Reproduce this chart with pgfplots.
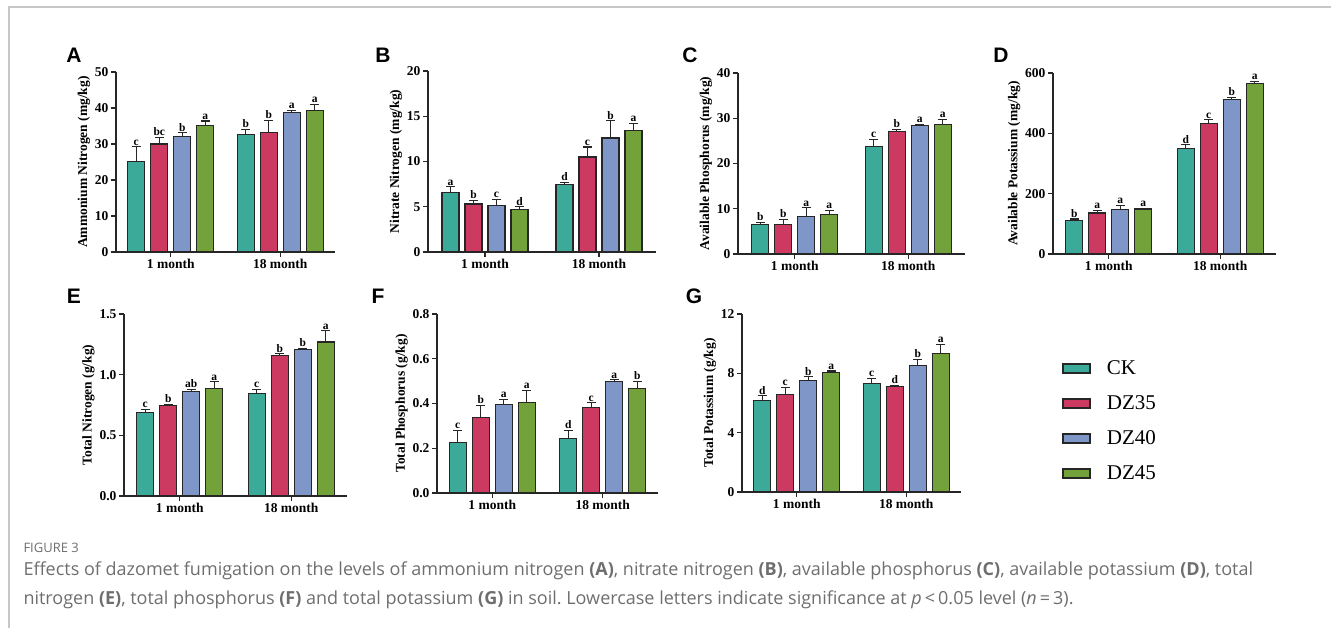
\documentclass[border=0pt]{standalone}
\usepackage{fontspec}
\setmainfont{Liberation Serif}
\newfontfamily\arial{Liberation Sans}
\newfontfamily\capfont{Open Sans}
\usepackage{pgfplots}
\usepackage{pgfplotstable}
\pgfplotsset{compat=1.18}

\definecolor{ck}{HTML}{3BAA99}
\definecolor{dz35}{HTML}{CC3A62}
\definecolor{dz40}{HTML}{7F96C8}
\definecolor{dz45}{HTML}{73A13A}
\definecolor{capgray}{HTML}{6E6E6E}

% columns: group, then value / error / letter for CK, DZ35, DZ40, DZ45
\pgfplotstableread{
x y1 e1 l1 y2 e2 l2 y3 e3 l3 y4 e4 l4
0 25.2 4.0 c 30.0 1.9 bc 32.0 1.1 b 35.1 1.3 a
1 32.7 1.3 b 33.1 3.5 b 38.8 0.6 a 39.4 1.6 a
}\tabA
\pgfplotstableread{
x y1 e1 l1 y2 e2 l2 y3 e3 l3 y4 e4 l4
0 6.6 0.6 a 5.3 0.4 b 5.1 0.7 c 4.7 0.3 d
1 7.5 0.2 d 10.5 1.1 c 12.6 1.9 b 13.4 0.8 a
}\tabB
\pgfplotstableread{
x y1 e1 l1 y2 e2 l2 y3 e3 l3 y4 e4 l4
0 6.5 0.5 b 6.6 1.0 b 8.3 1.9 a 8.8 0.8 a
1 23.8 1.5 c 27.0 0.6 b 28.4 0.3 a 28.7 1.1 a
}\tabC
\pgfplotstableread{
x y1 e1 l1 y2 e2 l2 y3 e3 l3 y4 e4 l4
0 112 4 b 136 9 a 147 15 a 149 3 a
1 349 13 d 433 12 c 512 8 b 565 7 a
}\tabD
\pgfplotstableread{
x y1 e1 l1 y2 e2 l2 y3 e3 l3 y4 e4 l4
0 0.688 0.028 c 0.743 0.011 b 0.859 0.022 ab 0.886 0.055 a
1 0.842 0.036 c 1.156 0.017 b 1.206 0.011 b 1.269 0.093 a
}\tabE
\pgfplotstableread{
x y1 e1 l1 y2 e2 l2 y3 e3 l3 y4 e4 l4
0 0.226 0.054 c 0.338 0.053 b 0.394 0.025 a 0.404 0.055 a
1 0.242 0.038 d 0.384 0.019 c 0.498 0.008 a 0.468 0.030 b
}\tabF
\pgfplotstableread{
x y1 e1 l1 y2 e2 l2 y3 e3 l3 y4 e4 l4
0 6.17 0.31 d 6.55 0.49 c 7.54 0.22 b 8.05 0.11 a
1 7.29 0.36 c 7.09 0.11 d 8.50 0.45 b 9.33 0.61 a
}\tabG

\pgfplotsset{
  panel/.style={
    scale only axis,
    ybar=6pt, bar width=17pt,
    xmin=-0.5, xmax=1.5, ymin=0,
    axis x line*=bottom, axis y line*=left,
    axis line style={line width=1.4pt, black!85},
    xtick={0,1}, xticklabels={1 month,18 month},
    tick align=outside, major tick length=5pt,
    tick style={line width=1.3pt, black!85},
    /pgf/number format/assume math mode=true,
    x tick label style={font=\bfseries\fontsize{13.5}{13.5}\selectfont, yshift=1pt},
    y tick label style={font=\bfseries\fontsize{13.5}{13.5}\selectfont, xshift=1pt},
    ylabel style={font=\bfseries\fontsize{13.5}{13.5}\selectfont, yshift=-2pt},
    nodes near coords, point meta=explicit symbolic,
    every node near coord/.append style={font=\bfseries\fontsize{11.5}{11.5}\selectfont,
      inner sep=1pt, anchor=south, shift={(axis direction cs:0,\myerr)}},
    error bars/y dir=plus, error bars/y explicit,
    error bars/error bar style={line width=1.2pt, black!85},
    error bars/error mark options={rotate=90, line width=1.2pt, mark size=4.5pt, black!85},
  },
  bar/.style={draw=black!85, line width=1.1pt, fill=#1},
}

\newcommand{\fourbars}[1]{%
  \addplot[bar=ck, visualization depends on={\thisrow{e1}\as\myerr}]
    table[x=x, y=y1, y error=e1, meta=l1]{#1};
  \addplot[bar=dz35, visualization depends on={\thisrow{e2}\as\myerr}]
    table[x=x, y=y2, y error=e2, meta=l2]{#1};
  \addplot[bar=dz40, visualization depends on={\thisrow{e3}\as\myerr}]
    table[x=x, y=y3, y error=e3, meta=l3]{#1};
  \addplot[bar=dz45, visualization depends on={\thisrow{e4}\as\myerr}]
    table[x=x, y=y4, y error=e4, meta=l4]{#1};
}

\begin{document}
\frenchspacing
\begin{tikzpicture}
\path[use as bounding box] (0,0) rectangle (1331pt,-628pt);
\draw[line width=1.5pt, black!22] (9pt,-628pt) -- (9pt,-7pt) -- (1331pt,-7pt);

% panel letters
\foreach \l/\px/\py in {A/74/55, B/383/55, C/690/55, D/1001/55, E/74/296, F/378/296, G/694/296}
  \node[font=\arial\bfseries\fontsize{21}{21}\selectfont] at (\px pt,-\py pt) {\l};

% A
\begin{axis}[panel, at={(116pt,-252pt)}, anchor=south west, width=219pt, height=180pt,
  ymax=50, ytick={0,10,...,50}, ylabel={Ammonium Nitrogen (mg/kg)}]
\fourbars{\tabA}
\end{axis}
% B
\begin{axis}[panel, at={(428pt,-252pt)}, anchor=south west, width=228pt, height=181pt,
  ymax=20, ytick={0,5,...,20}, ylabel={Nitrate Nitrogen (mg/kg)}]
\fourbars{\tabB}
\end{axis}
% C
\begin{axis}[panel, at={(738pt,-254pt)}, anchor=south west, width=227pt, height=181pt,
  ymax=40, ytick={0,10,...,40}, ylabel={Available Phosphorus (mg/kg)}]
\fourbars{\tabC}
\end{axis}
% D
\begin{axis}[panel, at={(1053pt,-254pt)}, anchor=south west, width=223pt, height=181pt,
  ymax=600, ytick={0,200,400,600}, ylabel={Available Potassium (mg/kg)}]
\fourbars{\tabD}
\end{axis}
% E
\begin{axis}[panel, at={(124pt,-496pt)}, anchor=south west, width=223pt, height=182pt,
  ymax=1.5, ytick={0,0.5,1,1.5},
  yticklabel style={/pgf/number format/.cd, fixed, fixed zerofill, precision=1},
  ylabel={Total Nitrogen (g/kg)}]
\fourbars{\tabE}
\end{axis}
% F
\begin{axis}[panel, at={(437pt,-493pt)}, anchor=south west, width=221pt, height=179pt,
  ymax=0.8, ytick={0,0.2,...,0.8},
  yticklabel style={/pgf/number format/.cd, fixed, fixed zerofill, precision=1},
  ylabel={Total Phosphorus (g/kg)}]
\fourbars{\tabF}
\end{axis}
% G with legend
\begin{axis}[panel, at={(742pt,-492pt)}, anchor=south west, width=219pt, height=178pt,
  ymax=12, ytick={0,4,8,12}, ylabel={Total Potassium (g/kg)},
  legend image code/.code={\draw[#1, line width=2pt] (0pt,-4.5pt) rectangle (27pt,4.5pt);},
  legend style={at={(1.46,0.75)}, anchor=north west, draw=none, fill=none,
    font=\fontsize{21}{23}\selectfont, row sep=15.5pt, inner sep=0pt,
    /tikz/every odd column/.append style={column sep=14pt}},
  legend cell align=left]
\fourbars{\tabG}
\legend{CK,DZ35,DZ40,DZ45}
\end{axis}

% caption
\node[anchor=base west, font=\capfont\fontsize{13}{13}\selectfont, text=capgray] at (20pt,-552pt) {FIGURE 3};
\node[anchor=base west, font=\capfont\fontsize{18}{18}\selectfont, text=capgray] at (20pt,-575pt)
  {Effects of dazomet fumigation on the levels of ammonium nitrogen \textbf{(A)}, nitrate nitrogen \textbf{(B)}, available phosphorus \textbf{(C)}, available potassium \textbf{(D)}, total};
\node[anchor=base west, font=\capfont\fontsize{18}{18}\selectfont, text=capgray] at (20pt,-604pt)
  {nitrogen \textbf{(E)}, total phosphorus \textbf{(F)} and total potassium \textbf{(G)} in soil. Lowercase letters indicate significance at \textit{p}\,<\,0.05 level (\textit{n}\,=\,3).};
\end{tikzpicture}
\end{document}
